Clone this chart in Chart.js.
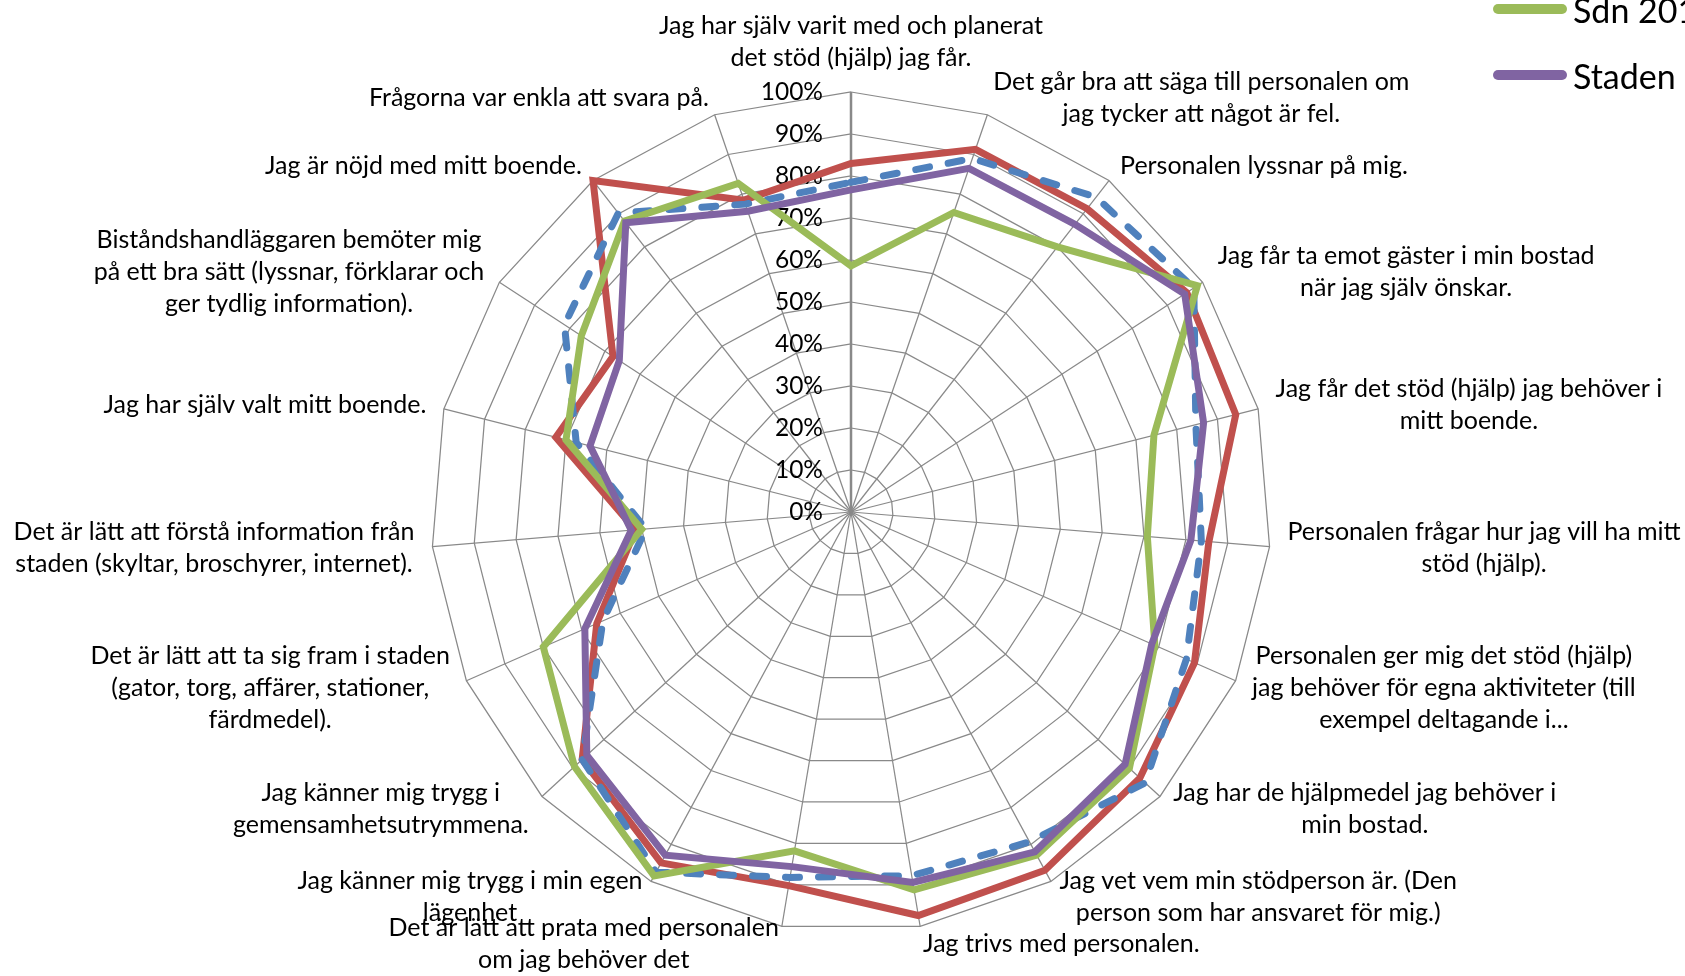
<!DOCTYPE html>
<html>
<head>
<meta charset="utf-8">
<script src="https://cdn.jsdelivr.net/npm/chart.js@4/dist/chart.umd.min.js"></script>
<style>
  html, body { margin: 0; padding: 0; background: #fff; overflow: hidden; }
  #wrap { position: relative; width: 1685px; height: 976px; overflow: hidden; }
  #radar { position: absolute; left: 0; top: 0; }
  #legend { position: absolute; left: 1493px; top: -156px; font-family: Lato, "Open Sans", sans-serif; font-size: 34px; color: #000; white-space: nowrap; }
  #legend .row { height: 66px; display: flex; align-items: center; }
  #legend .swatch { width: 74px; height: 10px; border-radius: 5px; margin-right: 6px; }
</style>
</head>
<body>
<div id="wrap">
  <canvas id="radar" width="1685" height="976"></canvas>
  <div id="legend"></div>
</div>
<script>
const canvas = document.querySelector('#radar');
const ctx = canvas.getContext('2d');

// category labels, line breaks as in the original
const categories = [
    ['Jag har själv varit med och planerat', 'det stöd (hjälp) jag får.'],
    ['Det går bra att säga till personalen om', 'jag tycker att något är fel.'],
    ['Personalen lyssnar på mig.'],
    ['Jag får ta emot gäster i min bostad', 'när jag själv önskar.'],
    ['Jag får det stöd (hjälp) jag behöver i', 'mitt boende.'],
    ['Personalen frågar hur jag vill ha mitt', 'stöd (hjälp).'],
    ['Personalen ger mig det stöd (hjälp)', 'jag behöver för egna aktiviteter (till', 'exempel deltagande i...'],
    ['Jag har de hjälpmedel jag behöver i', 'min bostad.'],
    ['Jag vet vem min stödperson är. (Den', 'person som har ansvaret för mig.)'],
    ['Jag trivs med personalen.'],
    ['Det är lätt att prata med personalen', 'om jag behöver det'],
    ['Jag känner mig trygg i min egen', 'lägenhet'],
    ['Jag känner mig trygg i', 'gemensamhetsutrymmena.'],
    ['Det är lätt att ta sig fram i staden', '(gator, torg, affärer, stationer,', 'färdmedel).'],
    ['Det är lätt att förstå information från', 'staden (skyltar, broschyrer, internet).'],
    ['Jag har själv valt mitt boende.'],
    ['Biståndshandläggaren bemöter mig', 'på ett bra sätt (lyssnar, förklarar och', 'ger tydlig information).'],
    ['Jag är nöjd med mitt boende.'],
    ['Frågorna var enkla att svara på.']
];

const seriesNames = ['Sdn 2011', 'Sdn 2012', 'Sdn 2013', 'Staden'];

const sdn2011 = [83, 91.3, 91.5, 95.5, 94.5, 85.5, 89.3, 93.5, 97, 97.4, 90.2, 95, 87, 66.1, 51.5, 72.5, 67.7, 100, 78.5];
const sdn2012 = [78.5, 89, 95, 97.5, 84.7, 83.7, 87.2, 95.2, 89.3, 87.8, 88.2, 97.5, 87, 64.5, 49, 67.5, 81.5, 90.2, 77.5];
const sdn2013 = [58.6, 75.4, 80, 98.5, 74.4, 70.8, 79, 90.1, 92.9, 91.2, 81.8, 98.5, 89.5, 80, 50, 70, 76.7, 87.8, 82.7];
const staden = [76.7, 86.5, 86.8, 94.9, 86.6, 81.2, 78.2, 88.7, 92, 89.4, 85.6, 92.9, 85.5, 69.2, 52.5, 64.1, 65.9, 87.3, 75.7];

const colors = ['#C0504D', '#4F81BD', '#9BBB59', '#8064A2'];

const FONT = 'Lato, "Open Sans", sans-serif';
const lineH = 32;

// tick labels left of the vertical axis
const tickText = {
    id: 'tickText',
    beforeDatasetsDraw(chart) {
        const scale = chart.scales.r;
        const c = chart.ctx;
        c.save();
        c.font = '24.5px ' + FONT;
        c.fillStyle = '#000';
        c.textAlign = 'right';
        c.textBaseline = 'middle';
        scale.ticks.forEach(t => {
            const d = scale.getDistanceFromCenterForValue(t.value);
            c.fillText(t.value + '%', scale.xCenter - 28, scale.yCenter - d);
        });
        c.restore();
    }
};

// category labels outside the outer ring
const pointText = {
    id: 'pointText',
    afterDraw(chart) {
        const scale = chart.scales.r;
        const c = chart.ctx;
        const R = scale.drawingArea;
        c.save();
        c.font = '25px ' + FONT;
        c.fillStyle = '#000';
        c.textAlign = 'center';
        c.textBaseline = 'middle';
        categories.forEach((lines, i) => {
            const ang = scale.getIndexAngle(i);
            const s = Math.sin(ang), co = Math.cos(ang);
            const p = scale.getPointPosition(i, R + 18);
            const w = Math.max(...lines.map(l => c.measureText(l).width));
            const h = lines.length * lineH;
            let x = p.x, y = p.y;
            if (Math.abs(s) < 0.05) y = p.y - co * h / 2;
            else if (s > 0) x = p.x + w / 2;
            else x = p.x - w / 2;
            lines.forEach((l, k) => c.fillText(l, x, y - h / 2 + lineH * (k + 0.5)));
        });
        c.restore();
    }
};

const datasets = [sdn2011, sdn2012, sdn2013, staden].map((values, i) => ({
    label: seriesNames[i],
    data: values,
    borderColor: colors[i],
    backgroundColor: colors[i],
    borderWidth: 7,
    borderDash: i === 1 ? [14, 19] : [],
    borderCapStyle: i === 1 ? 'round' : 'butt',
    borderJoinStyle: 'miter',
    pointRadius: 0,
    fill: false,
    order: 4 - i
}));

const chart = new Chart(ctx, {
    type: 'radar',
    data: { labels: categories, datasets },
    options: {
        responsive: false,
        animation: false,
        devicePixelRatio: 1,
        layout: { padding: { left: 431, right: 414, top: 92, bottom: 44 } },
        plugins: { legend: { display: false }, tooltip: { enabled: false } },
        scales: {
            r: {
                min: 0,
                max: 100,
                ticks: { stepSize: 10, display: false, showLabelBackdrop: false },
                grid: { color: '#898989', lineWidth: 1.25, circular: false },
                angleLines: {
                    color: '#898989',
                    lineWidth: c => c.index === 0 ? 2.5 : 1.25
                },
                pointLabels: { display: false }
            }
        }
    },
    plugins: [tickText, pointText]
});

// legend (top entries fall outside the picture, as in the original)
const legend = document.querySelector('#legend');
seriesNames.forEach((name, i) => {
    const row = document.createElement('div');
    row.className = 'row';
    const sw = document.createElement('span');
    sw.className = 'swatch';
    sw.style.background = colors[i];
    const txt = document.createElement('span');
    txt.textContent = name;
    row.append(sw, txt);
    legend.appendChild(row);
});
</script>
</body>
</html>
